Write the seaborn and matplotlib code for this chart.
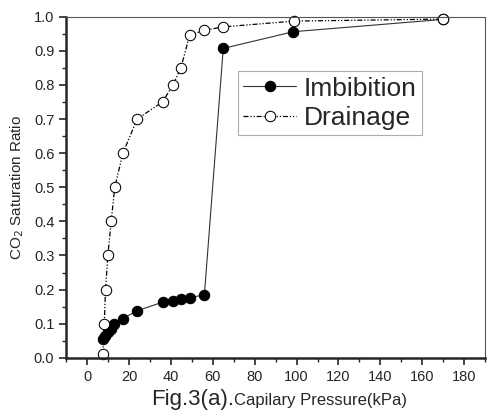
import seaborn as sns
import matplotlib.pyplot as plt
import pandas as pd
from matplotlib.ticker import MultipleLocator

# values
imb_pressure = [7.5, 8.5, 10.0, 11.5, 13.0, 17.0, 24.0, 36.0, 41.0, 45.0, 49.0, 56.0, 65.0, 98.5, 170.0]
imb_ratio = [0.055, 0.065, 0.075, 0.085, 0.098, 0.115, 0.138, 0.163, 0.167, 0.172, 0.176, 0.185, 0.907, 0.956, 0.992]

drn_pressure = [7.5, 8.2, 8.8, 9.9, 11.5, 13.2, 17.1, 23.9, 36.0, 41.0, 44.8, 48.9, 55.8, 64.8, 98.7, 170.0]
drn_ratio = [0.01, 0.10, 0.20, 0.30, 0.40, 0.50, 0.60, 0.70, 0.75, 0.80, 0.85, 0.945, 0.96, 0.97, 0.987, 0.993]

sns.set_style("ticks")
plt.rcParams['font.family'] = ['Liberation Sans', 'DejaVu Sans']

df_imb = pd.DataFrame({'p': imb_pressure, 'r': imb_ratio})
df_drn = pd.DataFrame({'p': drn_pressure, 'r': drn_ratio})

fig = plt.figure(figsize=(4.9, 4.17), dpi=100)
ax = fig.add_axes([0.135, 0.142, 0.855, 0.818])

sns.lineplot(data=df_imb, x='p', y='r', ax=ax, color='#333333', linewidth=0.8,
             marker='o', markersize=7.5, markerfacecolor='black', markeredgecolor='black',
             label='Imbibition', sort=False, clip_on=False)
sns.lineplot(data=df_drn, x='p', y='r', ax=ax, color='black', linewidth=0.9,
             linestyle=(0, (4, 1.5, 1, 1.5, 1, 1.5)),
             marker='o', markersize=7.5, markerfacecolor='white', markeredgecolor='black',
             label='Drainage', sort=False, clip_on=False)

ax.set_xlim(-10, 190)
ax.set_ylim(0, 1.0)
ax.xaxis.set_major_locator(MultipleLocator(20))
ax.xaxis.set_minor_locator(MultipleLocator(10))
ax.yaxis.set_major_locator(MultipleLocator(0.1))
ax.yaxis.set_minor_locator(MultipleLocator(0.05))
ax.set_xticks([0, 20, 40, 60, 80, 100, 120, 140, 160, 180])
ax.tick_params(axis='both', which='major', direction='out', length=5, width=1.2, labelsize=10.5)
ax.tick_params(axis='both', which='minor', direction='out', length=3, width=1.0)
ax.yaxis.set_major_formatter(plt.FuncFormatter(lambda v, _: f'{v:.1f}'))

ax.spines['left'].set_linewidth(1.8)
ax.spines['bottom'].set_linewidth(1.8)
ax.spines['top'].set_linewidth(0.8)
ax.spines['top'].set_color('#555555')
ax.spines['right'].set_linewidth(0.8)
ax.spines['right'].set_color('#555555')

ax.set_xlabel('')
ax.set_ylabel('CO$_2$ Saturation Ratio', fontsize=11, labelpad=6)

leg = ax.legend(loc='upper left', bbox_to_anchor=(0.41, 0.84), fontsize=19,
                frameon=True, fancybox=False, handlelength=2.0, handletextpad=0.3,
                borderpad=0.2, labelspacing=0.2, borderaxespad=0)
leg.get_frame().set_edgecolor('#999999')
leg.get_frame().set_linewidth(0.8)

fig.text(234 / 490, 1 - 405 / 417, 'Fig.3(a).', ha='right', va='baseline', fontsize=16)
fig.text(234 / 490, 1 - 405 / 417, 'Capilary Pressure(kPa)', ha='left', va='baseline', fontsize=12)

fig.savefig('out.png', dpi=100)
